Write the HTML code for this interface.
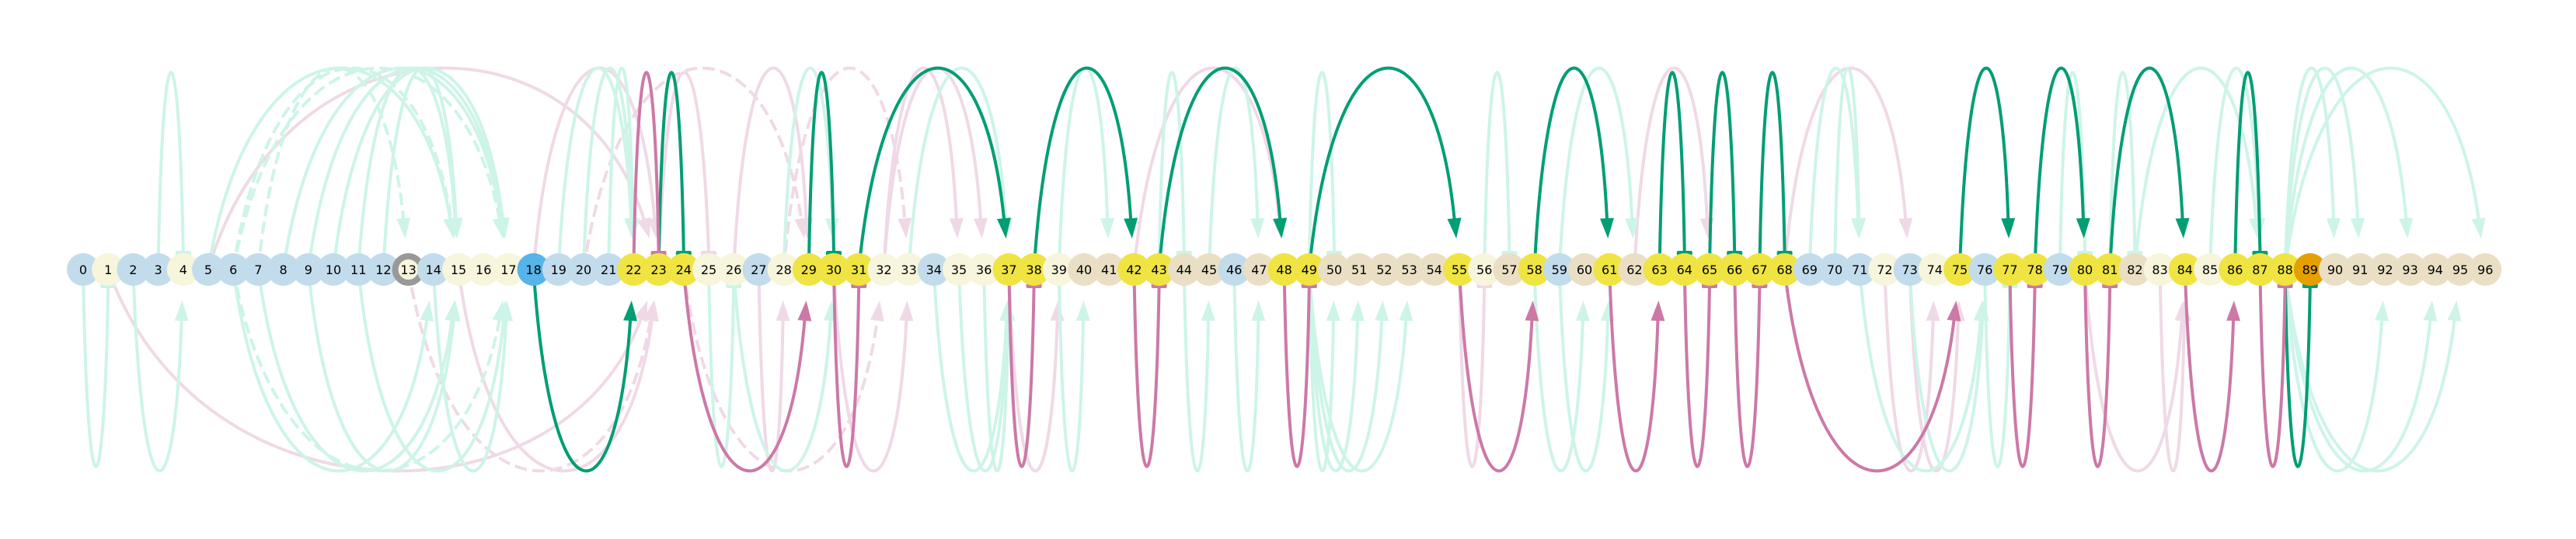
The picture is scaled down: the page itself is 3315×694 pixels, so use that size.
<!DOCTYPE html>
<html><head><meta charset="utf-8"><style>
html,body{margin:0;padding:0;background:#fff;}
svg{display:block;}
text{font-family:"DejaVu Sans","Liberation Sans",sans-serif;font-size:16px;}
</style></head><body>
<svg id="chart" width="3315" height="694" viewBox="0 0 3315 694" xmlns="http://www.w3.org/2000/svg">
<g id="edges"></g>
<g id="nodes"></g>
</svg>
<script>
const nodeCount = 97;
const blueNodes = [0,2,3,5,6,7,8,9,10,11,12,14,19,20,21,27,34,46,59,69,70,71,73,76,79];
const creamNodes = [1,4,13,15,16,17,25,26,28,32,33,35,36,39,56,72,74,83,85];
const yellowNodes = [22,23,24,29,30,31,37,38,42,43,48,49,55,58,61,63,64,65,66,67,68,75,77,78,80,81,84,86,87,88];
const skyNodes = [18];
const orangeNodes = [89];
const highlighted = [13];

// edge groups: [from, to, dashed(0/1)]
const lightTealTopArrow = [[5,15,0],[6,15,1],[6,17,1],[8,17,0],[9,17,0],[11,15,0],[12,15,0],[10,17,0],[7,13,1],[20,22,0],[21,22,0],[19,22,0],[28,30,0],[33,37,0],[39,41,0],[45,47,0],[59,62,0],[69,71,0],[70,71,0],[82,87,0],[85,87,0],[88,90,0],[88,91,0],[88,93,0],[88,96,0]];
const lightTealTopBar = [[3,4,0],[43,44,0],[49,50,0],[56,57,0],[79,80,0],[81,82,0]];
const lightPinkTopArrow = [[5,23,0],[18,23,0],[20,29,1],[26,29,0],[32,35,0],[32,36,0],[42,48,0],[62,65,0],[68,73,0],[28,33,1]];
const lightPinkTopBar = [[23,25,0]];
const lightTealBotArrow = [[2,4,0],[6,14,0],[7,15,0],[6,17,1],[11,17,0],[14,17,0],[9,15,0],[26,30,0],[34,37,0],[35,37,0],[36,37,0],[39,40,0],[44,45,0],[46,47,0],[49,50,0],[49,51,0],[49,52,0],[49,53,0],[58,60,0],[59,61,0],[71,76,0],[73,76,0],[88,92,0],[88,94,0],[88,95,0]];
const lightTealBotBar = [[0,1,0],[76,77,0],[25,26,0]];
const lightPinkBotArrow = [[1,23,0],[13,23,1],[15,23,0],[27,28,0],[37,39,0],[72,74,0],[73,75,0],[80,84,0],[83,84,0],[30,33,0],[24,32,1]];
const lightPinkBotBar = [[55,56,0]];
const greenTopArrow = [[31,37,0],[38,42,0],[43,48,0],[49,55,0],[58,61,0],[75,77,0],[78,80,0],[81,84,0]];
const greenTopBar = [[23,24,0],[29,30,0],[63,64,0],[65,66,0],[67,68,0],[86,87,0]];
const pinkTopBar = [[22,23,0]];
const greenBotArrow = [[18,22,0]];
const greenBotBar = [[88,89,0]];
const pinkBotArrow = [[24,29,0],[55,58,0],[61,63,0],[68,75,0],[84,86,0]];
const pinkBotBar = [[30,31,0],[37,38,0],[42,43,0],[48,49,0],[64,65,0],[66,67,0],[77,78,0],[80,81,0],[87,88,0]];

const NS="http://www.w3.org/2000/svg";
const x0=107, dx=32.2, yN=347, R=21;
const xScale=i=>x0+dx*i;
const eg=document.getElementById('edges');

function drawGroup(list, color, top, arrow){
  list.forEach(e=>{
    const a=e[0], b=e[1];
    const xa=xScale(a), xb=xScale(b);
    const w=xb-xa;
    const s=top?-1:1;
    const apex=top?96:598;
    const tipY=yN+s*(R+19);
    const endY=arrow?tipY+s*22:yN+s*R;
    const yc=yN+(apex-yN)/0.75;
    const c1=xa+0.17*w, c2=xb-0.17*w;
    // end point adjusted along tangent direction for arrow tip
    const p=document.createElementNS(NS,'path');
    
    
    const ex=arrow? xb-0.17*w*(Math.abs(endY-yN)/Math.abs(yc-yN)) : xb;
    p.setAttribute('d',`M${xa},${yN} C${c1},${yc} ${c2},${yc} ${ex},${endY}`);
    p.setAttribute('fill','none');p.setAttribute('stroke',color);p.setAttribute('stroke-width','4');
    if(e[2]) p.setAttribute('stroke-dasharray','16,7');
    eg.appendChild(p);
    if(arrow){
      const h=document.createElementNS(NS,'polygon');
      
      
      const tx=xb-0.17*w*(Math.abs(tipY-yN)/Math.abs(yc-yN));
      // direction from control point c2 to tip
      let vx=tx-c2, vy=tipY-yc; const L=Math.hypot(vx,vy); vx/=L; vy/=L;
      const bx=tx-vx*26, byy=tipY-vy*26;
      const px=-vy*9, py=vx*9;
      h.setAttribute('points',`${tx},${tipY} ${bx+px},${byy+py} ${bx-px},${byy-py}`);
      h.setAttribute('fill',color);
      eg.appendChild(h);
    } else {
      const r=document.createElementNS(NS,'rect');
      
      
      r.setAttribute('x',xb-10);r.setAttribute('y',top?yN-R-3:yN+R-3);
      r.setAttribute('width',20);r.setAttribute('height',6);r.setAttribute('rx',2);r.setAttribute('fill',color);
      eg.appendChild(r);
    }
  });
}
const LT="#cdf4e8", LP="#f0d9e6", G="#009e73", P="#cc79a7";
drawGroup(lightPinkTopArrow,LP,true,true);
drawGroup(lightPinkTopBar,LP,true,false);
drawGroup(lightPinkBotArrow,LP,false,true);
drawGroup(lightPinkBotBar,LP,false,false);
drawGroup(lightTealTopArrow,LT,true,true);
drawGroup(lightTealTopBar,LT,true,false);
drawGroup(lightTealBotArrow,LT,false,true);
drawGroup(lightTealBotBar,LT,false,false);
drawGroup(greenTopArrow,G,true,true);
drawGroup(greenTopBar,G,true,false);
drawGroup(pinkTopBar,P,true,false);
drawGroup(greenBotArrow,G,false,true);
drawGroup(greenBotBar,G,false,false);
drawGroup(pinkBotArrow,P,false,true);
drawGroup(pinkBotBar,P,false,false);

function fillFor(i){
  if(skyNodes.includes(i)) return "#56b4e9";
  if(orangeNodes.includes(i)) return "#e69f00";
  if(yellowNodes.includes(i)) return "#f0e442";
  if(blueNodes.includes(i)) return "#c2dcec";
  if(creamNodes.includes(i)) return "#f7f5dc";
  return "#eadfc4";
}
const ng=document.getElementById('nodes');
for(let i=0;i<nodeCount;i++){
  const g=document.createElementNS(NS,'g');
  
  
  const ci=document.createElementNS(NS,'circle');
  ci.setAttribute('cx',xScale(i));ci.setAttribute('cy',yN);
  ci.setAttribute('r',highlighted.includes(i)?17:R);
  ci.setAttribute('fill',fillFor(i));
  if(highlighted.includes(i)){ci.setAttribute('stroke','#999');ci.setAttribute('stroke-width','8');}
  g.appendChild(ci);
  const t=document.createElementNS(NS,'text');
  t.setAttribute('x',xScale(i));t.setAttribute('y',yN+6);t.setAttribute('text-anchor','middle');
  t.textContent=i;
  g.appendChild(t);
  ng.appendChild(g);
}
</script>
</body></html>
